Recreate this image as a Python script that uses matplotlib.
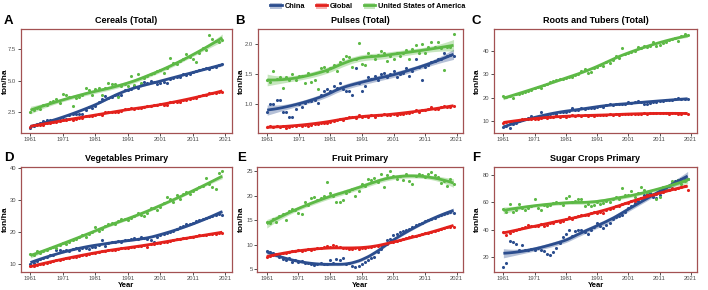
import numpy as np
import matplotlib
matplotlib.use('Agg')
import matplotlib.pyplot as plt
from matplotlib.patches import Patch
from matplotlib.lines import Line2D

plt.rcParams['font.family'] = ['Liberation Sans', 'DejaVu Sans']

years = np.arange(1961, 2021)
series_names = ['China', 'Global', 'United States of America']
colors = ['#2B4D8E', '#E3211C', '#5DB946']

titles = ['Cereals (Total)', 'Pulses (Total)', 'Roots and Tubers (Total)',
          'Vegetables Primary', 'Fruit Primary', 'Sugar Crops Primary']
letters = ['A', 'B', 'C', 'D', 'E', 'F']
yticks = [[2.5, 5.0, 7.5], [1.0, 1.5, 2.0], [10, 20, 30, 40],
          [10, 20, 30, 40], [5, 10, 15, 20, 25], [20, 40, 60, 80]]
ytick_labels = [['2.5', '5.0', '7.5'], ['1.0', '1.5', '2.0'], ['10', '20', '30', '40'],
                ['10', '20', '30', '40'], ['5', '10', '15', '20', '25'], ['20', '40', '60', '80']]
xticks = [1961, 1971, 1981, 1991, 2001, 2011, 2021]

# A: cereals
cereals_china = [1.25, 1.40, 1.55, 1.65, 1.80, 1.90, 1.85, 1.90, 1.85, 2.05,
                 2.10, 2.00, 2.25, 2.35, 2.40, 2.35, 2.40, 2.70, 2.90, 2.85,
                 3.00, 3.30, 3.55, 3.80, 3.60, 3.75, 3.85, 3.80, 3.90, 4.30,
                 4.25, 4.35, 4.55, 4.45, 4.65, 4.90, 4.85, 4.95, 4.90, 4.75,
                 4.80, 4.90, 4.85, 5.15, 5.20, 5.30, 5.30, 5.50, 5.45, 5.50,
                 5.70, 5.80, 5.85, 5.90, 6.00, 5.95, 6.10, 6.10, 6.25, 6.30]
cereals_global = [1.35, 1.45, 1.47, 1.52, 1.50, 1.65, 1.68, 1.75, 1.75, 1.80,
                  1.92, 1.88, 1.97, 1.90, 1.98, 2.05, 2.05, 2.22, 2.18, 2.17,
                  2.25, 2.38, 2.30, 2.50, 2.50, 2.55, 2.52, 2.50, 2.62, 2.75,
                  2.72, 2.80, 2.75, 2.82, 2.80, 2.95, 2.98, 3.02, 3.05, 3.05,
                  3.12, 3.10, 3.10, 3.30, 3.28, 3.28, 3.35, 3.50, 3.50, 3.55,
                  3.65, 3.62, 3.82, 3.90, 3.90, 4.00, 4.05, 4.05, 4.12, 4.10]
cereals_usa = [2.55, 2.70, 2.85, 2.75, 3.05, 3.05, 3.30, 3.40, 3.55, 3.25,
               3.95, 3.85, 3.75, 3.00, 3.65, 3.70, 3.90, 4.45, 4.25, 3.85,
               4.35, 4.45, 3.85, 4.40, 4.80, 4.75, 4.75, 3.70, 4.55, 4.75,
               4.60, 5.40, 4.70, 5.55, 4.85, 5.25, 5.35, 5.55, 5.65, 5.80,
               5.85, 5.60, 6.00, 6.80, 6.40, 6.35, 6.60, 6.70, 7.10, 6.90,
               6.75, 6.50, 7.20, 7.60, 7.45, 8.60, 8.30, 8.15, 8.05, 8.20]

# B: pulses
pulses_china = [0.87, 1.01, 1.00, 1.08, 1.08, 0.87, 0.87, 0.80, 0.80, 0.92,
                1.00, 0.95, 1.02, 1.06, 1.05, 1.08, 1.03, 1.15, 1.22, 1.25,
                1.23, 1.31, 1.28, 1.35, 1.25, 1.22, 1.22, 1.15, 1.61, 1.35,
                1.23, 1.30, 1.45, 1.42, 1.48, 1.40, 1.50, 1.52, 1.45, 1.50,
                1.55, 1.45, 1.50, 1.52, 1.60, 1.47, 1.55, 1.75, 1.62, 1.40,
                1.62, 1.65, 1.70, 1.72, 1.75, 1.76, 1.85, 1.80, 1.82, 1.81]
pulses_global = [0.63, 0.65, 0.63, 0.64, 0.62, 0.64, 0.61, 0.63, 0.64, 0.65,
                 0.66, 0.64, 0.66, 0.65, 0.66, 0.67, 0.68, 0.70, 0.70, 0.69,
                 0.71, 0.73, 0.75, 0.76, 0.75, 0.78, 0.79, 0.80, 0.78, 0.82,
                 0.80, 0.81, 0.80, 0.82, 0.80, 0.82, 0.83, 0.84, 0.83, 0.82,
                 0.84, 0.82, 0.85, 0.84, 0.86, 0.86, 0.87, 0.90, 0.88, 0.91,
                 0.90, 0.93, 0.95, 0.92, 0.93, 0.95, 0.97, 0.96, 0.96, 0.97]
pulses_usa = [1.40, 1.38, 1.55, 1.42, 1.45, 1.28, 1.45, 1.40, 1.50, 1.40,
              1.48, 1.47, 1.35, 1.52, 1.37, 1.40, 1.25, 1.60, 1.62, 1.55,
              1.60, 1.65, 1.55, 1.70, 1.75, 1.80, 1.78, 1.62, 1.76, 2.02,
              1.68, 1.65, 1.85, 1.80, 1.75, 1.82, 1.88, 1.85, 1.72, 1.80,
              1.75, 1.85, 1.80, 1.85, 1.90, 1.75, 1.92, 1.98, 1.85, 2.00,
              1.85, 1.95, 2.03, 1.95, 2.03, 1.93, 1.58, 1.95, 1.95, 2.17]

# C: roots and tubers
roots_china = [7.5, 8.0, 7.2, 9.0, 9.5, 10.0, 10.5, 11.0, 11.5, 12.2,
               11.8, 12.0, 14.0, 12.5, 12.8, 13.0, 13.5, 13.2, 13.8, 14.0,
               13.8, 14.5, 15.5, 15.0, 14.8, 15.5, 15.2, 15.5, 15.8, 15.5,
               16.0, 16.5, 16.2, 16.8, 17.5, 17.0, 17.2, 17.5, 17.2, 17.5,
               18.0, 17.8, 18.2, 18.5, 18.0, 17.5, 17.3, 17.8, 18.0, 18.2,
               18.5, 18.8, 19.0, 19.2, 19.0, 19.5, 19.8, 19.6, 19.5, 19.4]
roots_global = [9.5, 9.6, 9.8, 10.0, 10.2, 10.5, 10.8, 11.0, 11.2, 11.0,
                11.2, 11.0, 11.5, 11.8, 11.5, 12.0, 11.8, 12.2, 12.0, 12.3,
                12.0, 12.2, 12.5, 12.4, 12.6, 12.3, 12.5, 12.4, 12.6, 12.2,
                12.5, 12.6, 12.8, 12.7, 13.0, 12.8, 13.0, 12.9, 13.1, 13.0,
                13.0, 13.2, 13.1, 13.3, 13.2, 13.4, 13.3, 13.5, 13.4, 13.6,
                13.5, 13.4, 13.6, 13.3, 13.5, 13.4, 13.3, 13.2, 13.4, 13.2]
roots_usa = [20.6, 20.2, 20.8, 19.8, 21.5, 21.8, 22.0, 22.6, 23.0, 23.5,
             24.2, 24.5, 24.0, 25.5, 26.0, 26.5, 27.2, 27.5, 28.0, 27.8,
             28.5, 29.0, 28.6, 29.5, 30.2, 31.5, 32.0, 30.5, 31.0, 32.5,
             33.0, 34.0, 33.5, 35.0, 34.8, 36.0, 37.5, 37.0, 41.0, 38.5,
             39.0, 39.5, 40.0, 41.5, 41.0, 42.0, 41.5, 42.0, 43.5, 42.0,
             42.5, 43.0, 43.5, 44.5, 45.0, 45.5, 44.0, 46.0, 47.0, 46.5]

# D: vegetables
veg_china = [10.0, 10.5, 11.0, 11.5, 12.0, 12.3, 12.8, 13.0, 14.5, 14.3,
             14.0, 14.5, 14.2, 14.8, 15.0, 14.5, 15.0, 15.2, 14.8, 15.5,
             15.5, 16.0, 17.5, 15.8, 16.5, 17.0, 17.0, 17.2, 17.0, 17.5,
             17.5, 18.0, 18.2, 18.0, 18.5, 18.2, 18.0, 17.5, 17.0, 18.5,
             19.0, 19.5, 19.8, 20.0, 20.5, 21.0, 21.5, 22.0, 22.5, 22.5,
             23.0, 23.5, 23.8, 24.0, 24.5, 24.8, 25.0, 25.5, 25.8, 25.5]
veg_global = [9.3, 9.5, 9.8, 10.0, 10.2, 10.5, 10.7, 11.0, 11.2, 11.4,
              11.6, 11.8, 12.0, 12.2, 12.4, 12.6, 12.8, 13.0, 13.2, 13.4,
              13.6, 13.8, 14.0, 14.1, 14.3, 14.5, 14.6, 14.8, 15.0, 15.1,
              15.2, 15.4, 15.5, 15.7, 15.8, 16.0, 15.5, 16.2, 16.3, 16.5,
              16.6, 16.8, 17.0, 17.2, 17.5, 17.8, 18.0, 18.2, 18.3, 18.5,
              18.6, 18.8, 19.0, 19.1, 19.2, 19.3, 19.5, 19.6, 19.8, 19.7]
veg_usa = [13.2, 13.0, 14.0, 13.5, 14.0, 14.5, 15.0, 15.5, 15.2, 16.0,
           16.5, 16.2, 17.0, 17.5, 18.0, 18.5, 19.0, 18.5, 19.5, 20.0,
           21.5, 20.5, 21.0, 22.0, 22.5, 23.0, 22.5, 23.5, 24.0, 24.0,
           23.8, 24.5, 25.0, 26.0, 25.5, 25.0, 26.0, 27.5, 27.5, 27.0,
           28.0, 29.0, 31.0, 30.5, 29.5, 31.5, 30.5, 32.0, 32.5, 32.0,
           33.0, 33.5, 34.0, 34.5, 37.0, 35.0, 34.0, 33.5, 38.5, 39.0]

# E: fruit
fruit_china = [8.6, 8.4, 8.2, 7.8, 7.5, 7.0, 6.8, 7.2, 6.5, 6.8,
               6.5, 6.6, 6.3, 6.2, 6.0, 5.8, 5.9, 6.2, 6.0, 6.1,
               6.8, 6.2, 7.0, 6.8, 7.3, 6.0, 6.2, 5.5, 5.4, 5.6,
               6.0, 6.5, 6.8, 7.2, 7.5, 8.5, 9.0, 10.0, 11.0, 11.2,
               12.0, 12.2, 12.5, 12.8, 13.0, 13.2, 13.5, 14.0, 14.2, 14.5,
               14.8, 15.0, 15.2, 15.5, 15.8, 16.0, 16.2, 16.5, 16.6, 16.4]
fruit_global = [7.4, 7.6, 7.8, 8.0, 8.0, 8.2, 8.3, 8.5, 8.6, 8.7,
                8.8, 8.6, 8.9, 9.0, 8.9, 9.1, 9.2, 9.3, 9.4, 9.6,
                9.5, 9.8, 9.7, 9.5, 9.3, 9.2, 9.0, 9.1, 9.2, 9.0,
                9.2, 9.3, 9.4, 9.5, 9.6, 9.7, 9.8, 10.0, 10.2, 10.5,
                10.6, 10.8, 11.0, 11.2, 11.3, 11.5, 11.7, 11.8, 12.0, 12.1,
                12.3, 12.4, 12.6, 12.8, 13.0, 13.1, 13.3, 13.5, 13.7, 13.6]
fruit_usa = [14.7, 14.4, 15.3, 14.6, 15.8, 16.3, 15.0, 16.8, 17.2, 17.0,
             16.5, 16.2, 18.8, 18.2, 19.5, 19.8, 19.2, 19.6, 20.0, 22.8,
             20.5, 20.0, 18.7, 18.8, 19.2, 20.5, 21.0, 21.5, 20.0, 21.0,
             22.5, 22.0, 23.5, 23.3, 23.6, 22.8, 24.5, 21.8, 24.2, 25.0,
             24.0, 23.5, 24.0, 23.3, 24.5, 23.0, 22.5, 24.0, 24.5, 24.2,
             23.8, 24.5, 24.8, 24.3, 23.8, 22.7, 23.0, 22.0, 23.5, 22.5]

# F: sugar crops
sugar_china = [13.0, 16.0, 31.5, 31.0, 29.5, 25.0, 29.0, 25.0, 25.5, 26.0,
               25.0, 27.0, 25.0, 24.5, 22.5, 21.5, 23.5, 27.0, 30.0, 35.0,
               37.0, 39.5, 35.5, 39.0, 39.5, 40.0, 38.0, 37.0, 40.0, 42.0,
               45.0, 43.0, 41.5, 43.5, 45.0, 48.0, 49.0, 50.0, 51.0, 53.0,
               56.0, 57.0, 59.0, 61.0, 63.0, 65.0, 66.0, 66.5, 64.0, 63.0,
               65.0, 69.0, 71.0, 72.0, 73.5, 75.0, 76.0, 76.5, 77.0, 77.0]
sugar_global = [38.0, 36.5, 37.5, 39.0, 40.0, 40.5, 41.5, 42.0, 43.5, 42.5,
                43.0, 42.5, 44.0, 43.0, 43.5, 44.5, 45.0, 46.0, 45.5, 46.0,
                48.0, 49.0, 48.0, 49.5, 50.0, 50.5, 51.0, 50.5, 52.0, 52.5,
                52.0, 53.0, 52.0, 54.0, 55.0, 56.0, 57.0, 57.5, 58.5, 59.0,
                59.5, 60.5, 61.0, 62.0, 63.0, 64.0, 65.0, 65.5, 65.0, 66.0,
                67.0, 67.5, 68.5, 69.0, 70.0, 69.5, 70.5, 71.0, 71.5, 68.5]
sugar_usa = [55.0, 53.0, 58.5, 52.5, 54.0, 58.5, 56.0, 54.0, 55.5, 57.0,
             62.5, 56.0, 54.5, 58.0, 57.5, 58.0, 59.0, 60.0, 59.5, 58.0,
             63.0, 64.5, 60.0, 61.0, 62.5, 62.0, 57.5, 58.5, 57.0, 58.0,
             60.0, 58.5, 59.0, 60.5, 60.0, 62.0, 63.5, 62.0, 70.5, 65.5,
             65.0, 68.0, 64.0, 66.5, 71.0, 68.5, 67.0, 68.0, 66.0, 62.5,
             64.0, 71.0, 70.0, 72.0, 75.5, 74.5, 76.0, 73.0, 75.5, 76.5]

panels = [
    [cereals_china, cereals_global, cereals_usa],
    [pulses_china, pulses_global, pulses_usa],
    [roots_china, roots_global, roots_usa],
    [veg_china, veg_global, veg_usa],
    [fruit_china, fruit_global, fruit_usa],
    [sugar_china, sugar_global, sugar_usa],
]


def loess(x, y, span=0.75, n_grid=80):
    # local quadratic fit with tricube weights, like R's loess defaults
    x = np.asarray(x, float)
    y = np.asarray(y, float)
    n = len(x)
    q = int(np.floor(n * span))

    def weights_row(x0):
        d = np.abs(x - x0)
        h = np.sort(d)[q - 1]
        w = np.clip(1 - (d / h) ** 3, 0, None) ** 3
        X = np.column_stack([np.ones(n), x - x0, (x - x0) ** 2])
        XtW = X.T * w
        return np.linalg.solve(XtW @ X, XtW)[0]

    L = np.array([weights_row(xi) for xi in x])
    resid = y - L @ y
    sigma = np.sqrt(np.sum(resid ** 2) / (n - np.trace(L)))
    xs = np.linspace(x.min(), x.max(), n_grid)
    rows = np.array([weights_row(x0) for x0 in xs])
    fit = rows @ y
    se = sigma * np.sqrt(np.sum(rows ** 2, axis=1))
    return xs, fit, fit - 2.0 * se, fit + 2.0 * se


W, H = 708, 290
fig = plt.figure(figsize=(W / 100, H / 100), dpi=100)

# panel boxes in pixels: left, top, right, bottom
boxes = [(20.7, 29.3, 232, 132.7), (257.7, 29.3, 463, 132.7), (494, 29.3, 697, 132.7),
         (20.7, 166.7, 232, 271.7), (257.3, 166.7, 463, 271.7), (494, 166.7, 697, 271.7)]
letter_pos = [(4, 21), (235, 21), (472, 21), (4, 158), (237, 158), (472, 158)]
ylab_x = [5, 241, 477, 5, 241, 477]
frame_color = '#A35152'

for i, (l, t, r, b) in enumerate(boxes):
    ax = fig.add_axes([l / W, 1 - b / H, (r - l) / W, (b - t) / H])
    for k, vals in enumerate(panels[i]):
        ax.scatter(years, vals, s=5, color=colors[k], linewidths=0, zorder=2)
    for k, vals in enumerate(panels[i]):
        xs, fit, lo, hi = loess(years, vals)
        ax.fill_between(xs, lo, hi, color=colors[k], alpha=0.35, linewidth=0, zorder=3)
        ax.plot(xs, fit, color=colors[k], lw=2.0, zorder=4, solid_capstyle='butt')
    ax.set_xticks(xticks)
    ax.set_xticklabels([str(v) for v in xticks])
    ax.set_yticks(yticks[i])
    ax.set_yticklabels(ytick_labels[i])
    ax.margins(x=0.05, y=0.05)
    ax.set_xlim(1958, 2023)
    ax.tick_params(labelsize=4.2, colors='#333333', labelcolor='#4D4D4D', length=2.0,
                   width=0.6, pad=1.2)
    for sp in ax.spines.values():
        sp.set_color(frame_color)
        sp.set_linewidth(0.9)
    ax.set_facecolor('white')

    fig.text((l + r) / 2 / W, 1 - (t - 8.5) / H, titles[i], ha='center', va='center',
             fontsize=6.5, fontweight='bold')
    fig.text(letter_pos[i][0] / W, 1 - letter_pos[i][1] / H, letters[i], ha='left',
             va='center', fontsize=9.5, fontweight='bold')
    fig.text(ylab_x[i] / W, 1 - (t + b) / 2 / H, 'ton/ha', rotation=90, ha='center',
             va='center', fontsize=6, fontweight='bold')
    if i >= 3:
        fig.text((l + r) / 2 / W, 1 - 285.5 / H, 'Year', ha='center', va='center',
                 fontsize=5.5, fontweight='bold')

handles = [(Patch(facecolor=c, alpha=0.35, linewidth=0), Line2D([], [], color=c, lw=2.0))
           for c in colors]
fig.legend(handles, series_names, loc='center', bbox_to_anchor=(368 / W, 1 - 6.5 / H),
           ncol=3, frameon=False, prop={'size': 5.3, 'weight': 'bold'},
           handlelength=1.5, handleheight=0.9, handletextpad=0.4, columnspacing=1.5,
           borderpad=0)

fig.savefig('out.png', dpi=100)
